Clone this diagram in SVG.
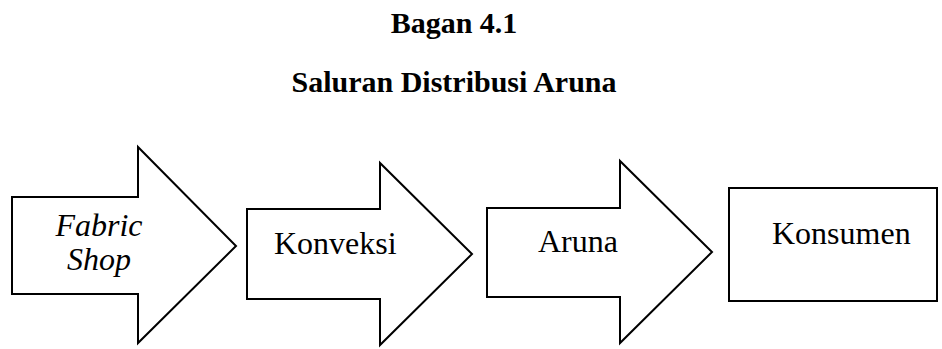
<svg xmlns="http://www.w3.org/2000/svg" width="942" height="349" viewBox="0 0 942 349">
<style>
.title{font-family:"Liberation Serif","Times New Roman",serif;font-weight:bold;font-size:30px;fill:#000;text-anchor:middle}
.lbl{font-family:"Liberation Serif","Times New Roman",serif;font-size:32px;fill:#000}
.shape{fill:#fff;stroke:#000;stroke-width:2;stroke-linejoin:miter}
</style>
<rect width="942" height="349" fill="#fff"/>
<g id="title">
<text class="title" x="454" y="33">Bagan 4.1</text>
<text class="title" x="454" y="92">Saluran Distribusi Aruna</text>
</g>
<g id="node-fabric-shop">
<polygon class="shape" points="12,197 138,197 138,147 236,246 138,343 138,294 12,294"/>
<text class="lbl" x="99" y="236" text-anchor="middle" font-style="italic">Fabric</text>
<text class="lbl" x="99" y="270" text-anchor="middle" font-style="italic">Shop</text>
</g>
<g id="node-konveksi">
<polygon class="shape" points="247,209 380,209 380,163 472,254 380,345 380,299 247,299"/>
<text class="lbl" x="274" y="254">Konveksi</text>
</g>
<g id="node-aruna">
<polygon class="shape" points="487,208 620,208 620,161 712,252 620,343 620,297 487,297"/>
<text class="lbl" x="538" y="252">Aruna</text>
</g>
<g id="node-konsumen">
<rect class="shape" x="729" y="188" width="208" height="113"/>
<text class="lbl" x="772" y="244">Konsumen</text>
</g>
</svg>
